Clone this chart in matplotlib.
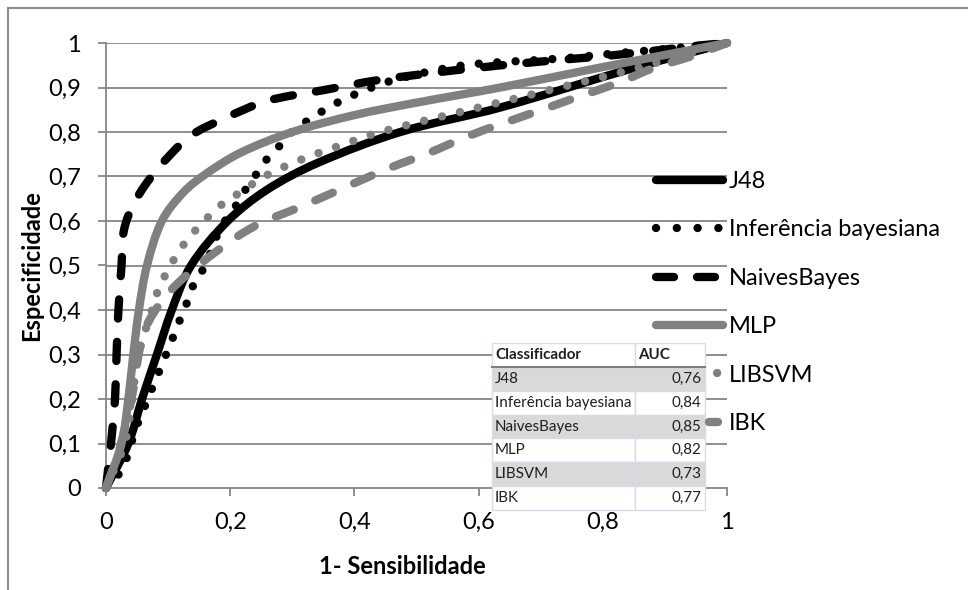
import matplotlib
matplotlib.use("Agg")
import matplotlib.pyplot as plt
import numpy as np
from matplotlib.lines import Line2D
from matplotlib.path import Path
from matplotlib.patches import PathPatch
from matplotlib.ticker import FuncFormatter, MultipleLocator

plt.rcParams['font.family'] = ['Lato', 'DejaVu Sans']

# ---------------- data ----------------
series_names = ["J48", "Inferência bayesiana", "NaivesBayes", "MLP", "LIBSVM", "IBK"]

j48_x = [0, 0.036, 0.058, 0.082, 0.106, 0.137, 0.196, 0.259, 0.34, 0.474, 0.635, 0.85, 1]
j48_y = [0, 0.10, 0.20, 0.30, 0.40, 0.50, 0.60, 0.67, 0.73, 0.80, 0.855, 0.944, 1]

bay_x = [0, 0.02, 0.034, 0.047, 0.058, 0.071, 0.082, 0.095, 0.108, 0.119, 0.132, 0.143,
         0.16, 0.184, 0.205, 0.221, 0.24, 0.259, 0.281, 0.302, 0.331, 0.358, 0.387,
         0.416, 0.447, 0.511, 0.576, 0.635, 0.7, 0.765, 0.829, 0.882, 1]
bay_y = [0, 0.03, 0.07, 0.13, 0.168, 0.213, 0.25, 0.294, 0.339, 0.378, 0.422, 0.463,
         0.50, 0.584, 0.625, 0.663, 0.701, 0.739, 0.771, 0.804, 0.831, 0.855, 0.876,
         0.893, 0.91, 0.933, 0.95, 0.957, 0.962, 0.969, 0.978, 0.984, 1]

nb_x = [0, 0.004, 0.008, 0.0145, 0.017, 0.02, 0.025, 0.029, 0.047, 0.082, 0.135, 0.19,
        0.26, 0.35, 0.44, 0.57, 0.69, 0.82, 0.96, 1]
nb_y = [0, 0.05, 0.10, 0.20, 0.30, 0.40, 0.50, 0.58, 0.645, 0.715, 0.79, 0.83,
        0.87, 0.894, 0.917, 0.94, 0.957, 0.973, 0.995, 1]

mlp_x = [0, 0.025, 0.036, 0.044, 0.053, 0.066, 0.09, 0.125, 0.16, 0.216, 0.30, 0.40,
         0.50, 0.635, 0.80, 1]
mlp_y = [0, 0.10, 0.20, 0.30, 0.40, 0.50, 0.60, 0.665, 0.705, 0.753, 0.80, 0.838,
         0.866, 0.90, 0.946, 1]

svm_x = [0, 0.03, 0.042, 0.052, 0.074, 0.084, 0.098, 0.114, 0.133, 0.155, 0.179,
         0.205, 0.259, 0.318, 0.38, 0.442, 0.635, 0.76, 0.856, 1]
svm_y = [0, 0.10, 0.20, 0.30, 0.40, 0.445, 0.485, 0.524, 0.562, 0.595, 0.629,
         0.654, 0.703, 0.74, 0.771, 0.80, 0.867, 0.91, 0.944, 1]

ibk_x = [0, 0.02, 0.035, 0.045, 0.054, 0.069, 0.105, 0.153, 0.207, 0.25, 0.31,
         0.40, 0.458, 0.52, 0.58, 0.64, 0.70, 0.76, 0.824, 0.882, 0.94, 1]
ibk_y = [0, 0.08, 0.16, 0.23, 0.31, 0.375, 0.445, 0.505, 0.561, 0.596, 0.63,
         0.685, 0.72, 0.753, 0.789, 0.82, 0.849, 0.879, 0.91, 0.944, 0.969, 1]

table_header = ["Classificador", "AUC"]
table_names = ["J48", "Inferência bayesiana", "NaivesBayes", "MLP", "LIBSVM", "IBK"]
table_auc = [0.76, 0.84, 0.85, 0.82, 0.73, 0.77]

x_label = "1- Sensibilidade"
y_label = "Especificidade"

# ---------------- figure ----------------
W, H, DPI = 968, 590, 100
fig = plt.figure(figsize=(W / DPI, H / DPI), dpi=DPI)
fig.patch.set_facecolor("white")

def px2fig(x, y):
    return x / W, 1 - y / H

ax_l, ax_r, ax_t, ax_b = 106, 727, 43, 488
ax = fig.add_axes([ax_l / W, (H - ax_b) / H, (ax_r - ax_l) / W, (ax_b - ax_t) / H])
ax.set_xlim(0, 1)
ax.set_ylim(0, 1)

GRID = "#868686"
GRAY = "#808080"
LW = 6.0  # points
lw_px = LW * DPI / 72.0
FS = 17

for yv in [0.1 * i for i in range(1, 11)]:
    ax.axhline(yv, color=GRID, lw=1.3, zorder=1)

for s in ["top", "right"]:
    ax.spines[s].set_visible(False)
for s in ["left", "bottom"]:
    ax.spines[s].set_color(GRID)
    ax.spines[s].set_linewidth(1.3)

ax.xaxis.set_major_locator(MultipleLocator(0.2))
ax.yaxis.set_major_locator(MultipleLocator(0.1))
fmt = FuncFormatter(lambda v, p: ("%g" % round(v, 2)).replace(".", ","))
ax.xaxis.set_major_formatter(fmt)
ax.yaxis.set_major_formatter(fmt)
ax.tick_params(axis="both", which="major", color=GRID, width=1.3, length=6,
               labelsize=FS, labelcolor="black")
ax.tick_params(axis="y", pad=12)
ax.tick_params(axis="x", pad=11)

# aspect factors so tangent lengths are measured as on screen
SX, SY = float(ax_r - ax_l), float(ax_b - ax_t)


def smooth_path(xs, ys):
    """Smoothed line: cubic Bezier segments through the data points
    (tangent directions from neighbours, handle length = 1/3 of the segment)."""
    p = np.column_stack([xs, ys]).astype(float)
    s = np.array([SX, SY])
    q = p * s
    n = len(q)

    def tangent(i):
        a = q[max(i - 1, 0)]
        b = q[min(i + 1, n - 1)]
        d = b - a
        L = np.hypot(*d)
        return d / L if L > 0 else d

    T = [tangent(i) for i in range(n)]
    verts = [p[0]]
    codes = [Path.MOVETO]
    for i in range(n - 1):
        seg = np.hypot(*(q[i + 1] - q[i]))
        c1 = (q[i] + T[i] * seg / 3.0) / s
        c2 = (q[i + 1] - T[i + 1] * seg / 3.0) / s
        verts += [c1, c2, p[i + 1]]
        codes += [Path.CURVE4] * 3
    return Path(np.array(verts), codes)


DOT = (0, (0.01, 2.2))
DASH = (0, (2.3, 2.8))


def draw(xs, ys, color, ls):
    patch = PathPatch(smooth_path(xs, ys), facecolor="none", edgecolor=color, lw=LW,
                      linestyle=ls, capstyle="round", joinstyle="round",
                      transform=ax.transData, clip_on=False, zorder=3)
    ax.add_patch(patch)


draw(j48_x, j48_y, "black", "-")
draw(bay_x, bay_y, "black", DOT)
draw(nb_x, nb_y, "black", DASH)
draw(mlp_x, mlp_y, GRAY, "-")
draw(svm_x, svm_y, GRAY, DOT)
draw(ibk_x, ibk_y, GRAY, DASH)

# ---------------- legend (proxy styles mimic Excel samples) ----------------
def u(px):
    return px / lw_px

hcommon = dict(solid_capstyle="round", dash_capstyle="round", lw=LW)
big = u(300)
handles = [
    Line2D([], [], color="black", ls="-", **hcommon),
    Line2D([], [], color="black", ls=(0, (0.01, u(20.7))), **hcommon),
    Line2D([], [], color="black", ls=(0, (u(18), u(23))), **hcommon),
    Line2D([], [], color=GRAY, ls="-", **hcommon),
    Line2D([], [], color=GRAY, ls=(big - u(61), (0.01, big)), **hcommon),
    Line2D([], [], color=GRAY, ls=(big - u(53), (u(9), big - u(9))), **hcommon),
]
fs_px = FS * DPI / 72.0
leg = fig.legend(handles, series_names, loc="upper left",
                 bbox_to_anchor=px2fig(656, 171), bbox_transform=fig.transFigure,
                 frameon=False, fontsize=FS, handlelength=67 / fs_px,
                 handletextpad=0.25, labelspacing=1.16, borderpad=0, borderaxespad=0)
leg.set_zorder(5)

# ---------------- AUC table ----------------
cell_text = [table_header] + [[n, ("%.2f" % a).replace(".", ",")] for n, a in zip(table_names, table_auc)]
tx0, tx1, tcol, ty0, ty1 = 492, 705, 635, 343, 510
bbox = [(tx0 - ax_l) / (ax_r - ax_l), (ax_b - ty1) / (ax_b - ax_t),
        (tx1 - tx0) / (ax_r - ax_l), (ty1 - ty0) / (ax_b - ax_t)]
tbl = ax.table(cellText=cell_text, bbox=bbox,
               colWidths=[(tcol - tx0), (tx1 - tcol)])
tbl.auto_set_font_size(False)
tbl.set_fontsize(10.9)
tbl.set_zorder(10)
EDGE = "#d5dde8"
for (r, c), cell in tbl.get_celld().items():
    cell.set_edgecolor(EDGE)
    cell.set_linewidth(1.0)
    if r == 0:
        cell.set_facecolor("white")
        cell.get_text().set_fontweight("bold")
    else:
        cell.set_facecolor("#d9d9d9" if r % 2 == 1 else "white")
    if c == 0:
        cell.PAD = 3.0 / (tcol - tx0)
        cell.get_text().set_ha("left")
        cell._loc = "left"
    else:
        if r == 0:
            cell.PAD = 3.0 / (tx1 - tcol)
            cell.get_text().set_ha("left")
            cell._loc = "left"
        else:
            cell.PAD = 3.5 / (tx1 - tcol)
            cell.get_text().set_ha("right")
            cell._loc = "right"
    cell.get_text().set_color("#1f1f1f")

# header bottom line
hy = 1 - 367 / H
fig.add_artist(Line2D([tx0 / W, tx1 / W], [hy, hy], color="#7f7f7f", lw=1.5, zorder=11))

# ---------------- axis titles ----------------
fig.text(*px2fig(32, 266), y_label, rotation=90, ha="center", va="center",
         fontsize=FS, fontweight="bold")
fig.text(*px2fig(402, 566), x_label, ha="center", va="center",
         fontsize=FS, fontweight="bold")

# ---------------- outer frame (left and top edge visible) ----------------
fig.add_artist(Line2D([7.5 / W, 7.5 / W], [0, 1 - 7.5 / H], color="#8c8c8c", lw=1.5))
fig.add_artist(Line2D([7.5 / W, 1], [1 - 7.5 / H, 1 - 7.5 / H], color="#8c8c8c", lw=1.5))

fig.savefig("out.png", dpi=DPI)
